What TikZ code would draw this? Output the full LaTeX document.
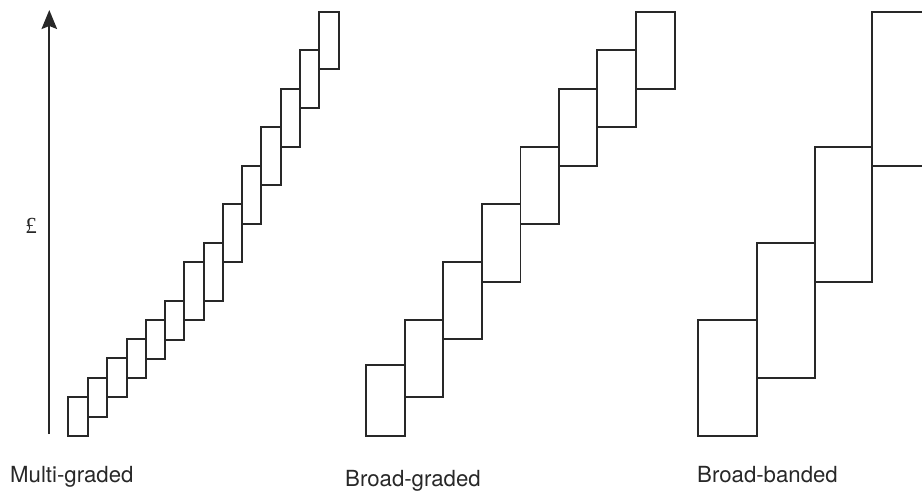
\documentclass[tikz,border=0pt]{standalone}
\usepackage{fontspec}
\newfontfamily\labelfont{TeX Gyre Heros}
\newfontfamily\poundfont{Liberation Serif}
\usetikzlibrary{arrows.meta}
\definecolor{linegray}{RGB}{40,40,40}
\tikzset{
  band/.style={draw=linegray, line width=1.7pt},
  axisline/.style={draw=linegray, line width=1.8pt, -{Stealth[length=19pt,width=15.5pt,inset=3pt]}},
  caption/.style={anchor=base west, inner sep=0pt, font=\labelfont\fontsize{22.2}{26}\selectfont, text=linegray},
  currency/.style={inner sep=0pt, font=\poundfont\fontsize{23}{26}\selectfont, text=linegray}
}
\begin{document}
\begin{tikzpicture}[x=1pt,y=-1pt]
\useasboundingbox (0,0) rectangle (922,492);
\clip (0,0) rectangle (922,492);
% axis
\coordinate (axbot) at (49.3,434);
\coordinate (axtop) at (49.3,10);
\draw[axisline] (axbot) -- (axtop);
\node[currency, anchor=base] (pound) at (31,233.5) {£};
% multi-graded
\foreach \xa/\xb/\ya/\yb in {
  68.3/88.3/397.3/436, 88.3/107.3/377.7/416.7, 107.3/126.7/358.3/397.3,
  126.7/145.7/339.3/378, 145.7/165/320/359, 165/184.3/301/339.7,
  184.3/203.7/262.3/320.3, 203.7/223/243/301, 223/242/204.3/262.3,
  242/261/165.7/223.7, 261/280.7/127.3/185.3, 280.7/300/88.7/146.7,
  300/319.3/50.3/108, 319.3/338.7/11.7/69.3}
  \draw[band] (\xa,\ya) rectangle (\xb,\yb);
% broad-graded
\foreach \xa/\xb/\ya/\yb in {
  366/405/365/436, 405/443.3/320.3/397.3, 443.3/482/262.3/339.3,
  482/520.5/204.3/281.7, 520.5/559/146.7/223.7, 559/597.3/88.7/165.7,
  597.3/636/50.3/127.3, 636/675/11.7/88.7}
  \draw[band] (\xa,\ya) rectangle (\xb,\yb);
% broad-banded
\foreach \xa/\xb/\ya/\yb in {
  698.3/756.7/320/436, 756.7/814.7/243/378, 814.7/872.3/146.7/281.7,
  872.3/940/11.7/165.7}
  \draw[band] (\xa,\ya) rectangle (\xb,\yb);
% captions
\node[caption] (multi) at (10,482.3) {Multi-graded};
\node[caption] (broadg) at (345,486.5) {Broad-graded};
\node[caption] (broadb) at (697,482.3) {Broad-banded};
\end{tikzpicture}
\end{document}
